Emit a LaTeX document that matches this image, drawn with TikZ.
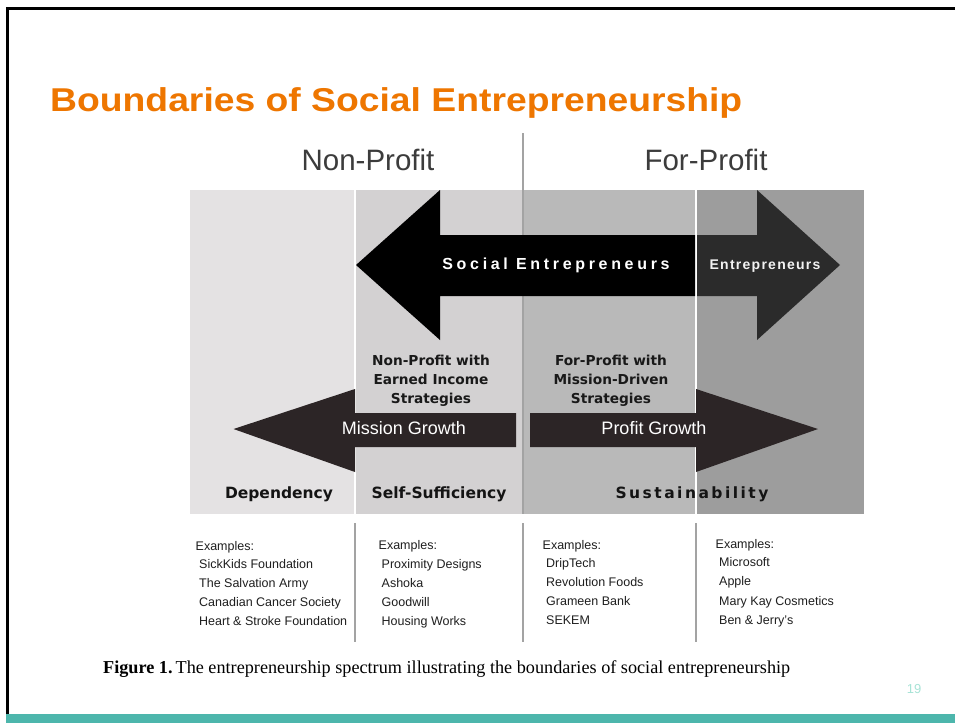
\documentclass[tikz,border=0pt]{standalone}
\usepackage{fontspec}
\setmainfont{Liberation Sans}
\newfontfamily\capfont{Liberation Serif}
\newfontfamily\dvfont{DejaVu Sans}
\newfontfamily\spacedA[LetterSpace=23]{Liberation Sans}
\newfontfamily\spacedB[LetterSpace=9]{Liberation Sans}
\newfontfamily\spacedC[LetterSpace=16]{DejaVu Sans}
\definecolor{colA}{HTML}{E4E2E3}
\definecolor{colB}{HTML}{D3D1D2}
\definecolor{colC}{HTML}{B9B9B9}
\definecolor{colD}{HTML}{9D9D9D}
\definecolor{arrowdark}{HTML}{2B2B2B}
\definecolor{arrowbrown}{HTML}{2C2526}
\definecolor{divider}{HTML}{A3A3A3}
\definecolor{titleorange}{HTML}{EE7600}
\definecolor{teal}{HTML}{4DB6AC}
\definecolor{pagenum}{HTML}{A7E3D6}
\definecolor{headgray}{HTML}{3C3C3C}
\tikzset{
  txt/.style={inner sep=0pt, anchor=base},
  headtxt/.style={txt, text=headgray, font=\fontsize{29.5}{34}\selectfont},
  midtxt/.style={txt, text=black!90, align=center, font=\dvfont\bfseries\fontsize{13.7}{18.8}\selectfont},
  lowtxt/.style={txt, text=black!92, font=\dvfont\bfseries\fontsize{15.5}{18}\selectfont},
  growtxt/.style={txt, text=white, font=\fontsize{18}{20}\selectfont},
  extxt/.style={inner sep=0pt, anchor=base west, text=black!88, font=\fontsize{12.5}{14}\selectfont},
  rule/.style={divider, line width=1.2pt},
}
\begin{document}
\begin{tikzpicture}[x=1pt,y=-1pt]
\useasboundingbox (0,0) rectangle (955,723);
\fill[white] (0,0) rectangle (955,723);
% frame and footer bar
\fill[teal] (6,714) rectangle (955,723);
\draw[black, line width=3pt] (7.5,714) -- (7.5,8.5) -- (955,8.5);
% title
\node[inner sep=0pt, anchor=base west, text=titleorange, font=\bfseries\fontsize{33}{38}\selectfont] (title) at (50,111) {\scalebox{1.13}[1]{Boundaries of Social Entrepreneurship}};
% column backgrounds
\fill[colA] (190,190) rectangle (354,514);
\fill[colB] (356,190) rectangle (523,514);
\fill[colC] (523,190) rectangle (695,514);
\fill[colD] (697,190) rectangle (864,514);
% central divider
\draw[rule] (523,133) -- (523,514);
% headers
\node[headtxt] (np) at (368,170) {Non-Profit};
\node[headtxt] (fp) at (706,170) {For-Profit};
% upper arrows
\fill[black] (356,265) -- (440,190) -- (440,235) -- (695,235) -- (695,296) -- (440,296) -- (440,340) -- cycle;
\fill[arrowdark] (697,235) -- (757,235) -- (757,190) -- (840,265) -- (757,340) -- (757,296) -- (697,296) -- cycle;
\node[txt, text=white, font=\spacedA\bfseries\fontsize{16}{18}\selectfont] (se) at (556,269.5) {Social Entrepreneurs};
\node[txt, text=white!95!black, font=\spacedB\bfseries\fontsize{14}{16}\selectfont] (en) at (765,269.5) {Entrepreneurs};
% middle labels
\node[midtxt] (npe) at (431,403) {Non-Profit with\\Earned Income\\Strategies};
\node[midtxt] (fpm) at (611,403) {For-Profit with\\Mission-Driven\\Strategies};
% lower arrows
\fill[arrowbrown] (233.5,429) -- (355,389) -- (355,413) -- (516,413) -- (516,447) -- (355,447) -- (355,472) -- cycle;
\fill[arrowbrown] (530,413) -- (696,413) -- (696,389) -- (818,429) -- (696,472) -- (696,447) -- (530,447) -- cycle;
\node[growtxt] (mg) at (404,434.5) {Mission Growth};
\node[growtxt] (pg) at (654,434.5) {Profit Growth};
% bottom labels
\node[lowtxt] (dep) at (279,498) {Dependency};
\node[lowtxt] (ss) at (439,498) {Self-Sufficiency};
\node[txt, text=black!92, font=\spacedC\bfseries\fontsize{15.5}{18}\selectfont] (sus) at (692,498) {Sustainability};
% lower dividers
\draw[rule] (355,523) -- (355,642);
\draw[rule] (523,523) -- (523,642);
\draw[rule] (696,523) -- (696,642);
% examples
\node[extxt] (e1) at (195.5,550.5) {Examples:};
\node[extxt] (e1a) at (199,568.5) {SickKids Foundation};
\node[extxt] (e1b) at (199,587.5) {The Salvation Army};
\node[extxt] (e1c) at (199,606.5) {Canadian Cancer Society};
\node[extxt] (e1d) at (199,625.5) {Heart \& Stroke Foundation};
\node[extxt] (e2) at (378.5,549.5) {Examples:};
\node[extxt] (e2a) at (381.5,568) {Proximity Designs};
\node[extxt] (e2b) at (381.5,587) {Ashoka};
\node[extxt] (e2c) at (381.5,606) {Goodwill};
\node[extxt] (e2d) at (381.5,625) {Housing Works};
\node[extxt] (e3) at (542.5,549.5) {Examples:};
\node[extxt] (e3a) at (546,567.5) {DripTech};
\node[extxt] (e3b) at (546,586.5) {Revolution Foods};
\node[extxt] (e3c) at (546,605.5) {Grameen Bank};
\node[extxt] (e3d) at (546,624.5) {SEKEM};
\node[extxt] (e4) at (715.5,548.5) {Examples:};
\node[extxt] (e4a) at (719,566.5) {Microsoft};
\node[extxt] (e4b) at (719,585.5) {Apple};
\node[extxt] (e4c) at (719,605) {Mary Kay Cosmetics};
\node[extxt] (e4d) at (719,624.5) {Ben \& Jerry's};
% caption
\node[inner sep=0pt, anchor=base west, font=\capfont\fontsize{18.2}{20}\selectfont] (cap) at (103,673) {\textbf{Figure 1.}\,The entrepreneurship spectrum illustrating the boundaries of social entrepreneurship};
% page number
\node[txt, text=pagenum, font=\fontsize{13}{15}\selectfont] (pn) at (914,693) {19};
\end{tikzpicture}
\end{document}
